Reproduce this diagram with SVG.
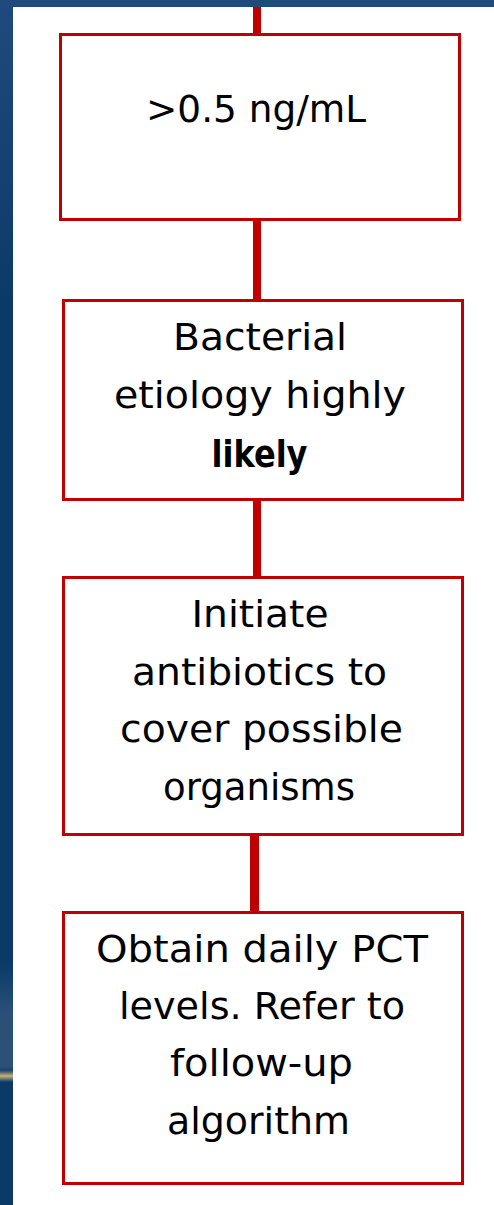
<svg xmlns="http://www.w3.org/2000/svg" width="494" height="1205" viewBox="0 0 494 1205">
<style>
.box{fill:#ffffff;stroke:#c00000;stroke-width:3}
.con{stroke:#c00000;stroke-width:8;fill:none}
.t{font-family:"DejaVu Sans","Liberation Sans",sans-serif;font-size:38px;fill:#000;text-anchor:middle}
.b{font-weight:bold}
</style>
<defs>
<linearGradient id="strip" x1="0" y1="0" x2="0" y2="1">
<stop offset="0" stop-color="#1f4a7d"/>
<stop offset="0.25" stop-color="#0c3a68"/>
<stop offset="0.8" stop-color="#0b3a67"/>
<stop offset="0.84" stop-color="#2a5078"/>
<stop offset="0.885" stop-color="#2d5078"/>
<stop offset="0.89" stop-color="#0b3a68"/>
<stop offset="1" stop-color="#0b3a68"/>
</linearGradient>
<linearGradient id="flare" x1="0" y1="0" x2="0" y2="1">
<stop offset="0" stop-color="#c8b27a" stop-opacity="0"/>
<stop offset="0.5" stop-color="#c8b27a"/>
<stop offset="1" stop-color="#c8b27a" stop-opacity="0"/>
</linearGradient>
</defs>
<rect x="0" y="0" width="494" height="1205" fill="#ffffff"/>
<rect x="0" y="0" width="13" height="1205" fill="url(#strip)"/>
<rect x="0" y="0" width="494" height="7" fill="#1f4a7d"/>
<rect x="0" y="1070" width="13" height="12" fill="url(#flare)"/>
<g id="connectors">
<line class="con" x1="257" y1="7" x2="257" y2="34"/>
<line class="con" x1="257" y1="220" x2="257" y2="300"/>
<line class="con" x1="257" y1="500" x2="257" y2="577"/>
<line class="con" x1="254.5" y1="835" x2="254.5" y2="912" style="stroke-width:9"/>
</g>
<g id="node1">
<rect class="box" x="60.5" y="34.5" width="399" height="185"/>
<text class="t" x="256" y="122" textLength="220" lengthAdjust="spacingAndGlyphs">&gt;0.5 ng/mL</text>
</g>
<g id="node2">
<rect class="box" x="63.5" y="300.5" width="399" height="199"/>
<text class="t" x="260" y="350" textLength="174" lengthAdjust="spacingAndGlyphs">Bacterial</text>
<text class="t" x="260" y="408" textLength="292" lengthAdjust="spacingAndGlyphs">etiology highly</text>
<text class="t b" x="259.5" y="467" textLength="96" lengthAdjust="spacingAndGlyphs">likely</text>
</g>
<g id="node3">
<rect class="box" x="63.5" y="577.5" width="399" height="257"/>
<text class="t" x="260" y="627" textLength="137" lengthAdjust="spacingAndGlyphs">Initiate</text>
<text class="t" x="259.5" y="685" textLength="255" lengthAdjust="spacingAndGlyphs">antibiotics to</text>
<text class="t" x="261.5" y="742" textLength="283" lengthAdjust="spacingAndGlyphs">cover possible</text>
<text class="t" x="259" y="800" textLength="192" lengthAdjust="spacingAndGlyphs">organisms</text>
</g>
<g id="node4">
<rect class="box" x="63.5" y="912.5" width="399" height="271"/>
<text class="t" x="262" y="962" textLength="332" lengthAdjust="spacingAndGlyphs">Obtain daily PCT</text>
<text class="t" x="262" y="1019" textLength="286" lengthAdjust="spacingAndGlyphs">levels. Refer to</text>
<text class="t" x="261.5" y="1076" textLength="183" lengthAdjust="spacingAndGlyphs">follow-up</text>
<text class="t" x="258.5" y="1134" textLength="183" lengthAdjust="spacingAndGlyphs">algorithm</text>
</g>
</svg>
